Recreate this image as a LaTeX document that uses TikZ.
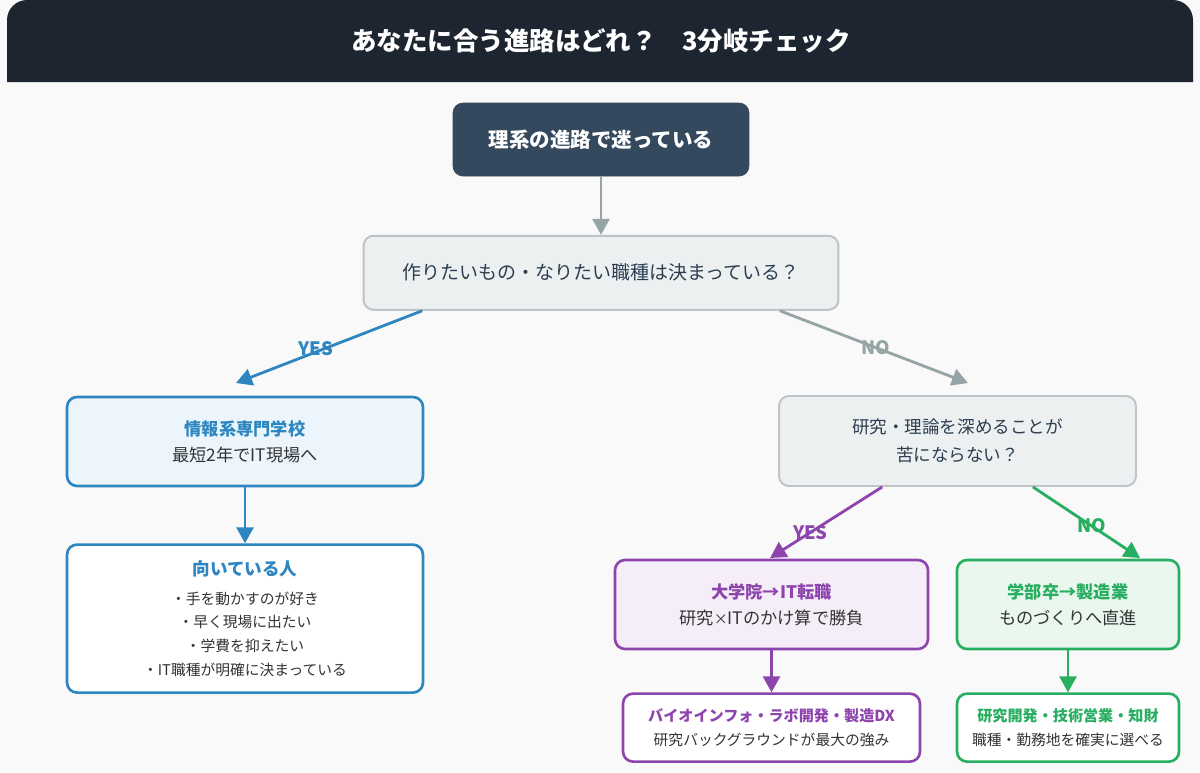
\documentclass[tikz,border=0pt]{standalone}
\usepackage{fontspec}
\setmainfont{Noto Sans CJK JP}
\usepackage{tikz}
\usetikzlibrary{calc}
\usetikzlibrary{positioning}
\usetikzlibrary{arrows.meta}

\definecolor{pagebg}{HTML}{F8F9F8}
\definecolor{bardark}{HTML}{1C2530}
\definecolor{startfill}{HTML}{34495E}
\definecolor{qfill}{HTML}{ECF0F1}
\definecolor{qline}{HTML}{BDC3C7}
\definecolor{arrowgrey}{HTML}{95A5A6}
\definecolor{textdark}{HTML}{2C3E50}
\definecolor{textsub}{HTML}{333333}
\definecolor{blueline}{HTML}{2E86C1}
\definecolor{bluefill}{HTML}{EBF5FB}
\definecolor{purpleline}{HTML}{8E44AD}
\definecolor{purplefill}{HTML}{F5EEF8}
\definecolor{greenline}{HTML}{27AE60}
\definecolor{greenfill}{HTML}{E9F7EF}

\begin{document}
\begin{tikzpicture}[
		x=0.02cm, y=-0.02cm,
		start_node/.style={
			fill=startfill,
			draw=startfill,
			rectangle,
			rounded corners=0.2cm,
			minimum width=5.92cm,
			minimum height=1.46cm,
			text=white,
			font=\fontsize{11.7}{14}\selectfont\bfseries},
		question/.style={
			fill=qfill,
			draw=qline,
			line width=1.1pt,
			rectangle,
			rounded corners=0.2cm,
			align=center,
			text=textdark,
			font=\fontsize{10}{15.9}\selectfont},
		route/.style={
			rectangle,
			rounded corners=0.2cm,
			line width=1.5pt,
			minimum height=1.78cm,
			align=center,
			text=textsub,
			font=\fontsize{9.8}{15}\selectfont},
		route_detail/.style={
			rectangle,
			fill=white,
			rounded corners=0.2cm,
			line width=1.5pt,
			align=center,
			text=textsub,
			font=\fontsize{8.4}{13.6}\selectfont},
		flow/.style={
			-{Triangle[length=0.32cm, width=0.34cm]},
			line width=1.6pt},
		answer/.style={
			font=\fontsize{10.5}{12}\selectfont\bfseries},
		]

		%Page and title bar
		\fill[pagebg] (0,0) rectangle (1200,772);
		\fill[bardark] (7,82) -- (7,20) arc[start angle=180, end angle=90, radius=0.4cm] -- (1173,0) arc[start angle=90, end angle=0, radius=0.4cm] -- (1193,82) -- cycle;
		\node (title) at (601,41) [text=white, font=\fontsize{14.5}{16}\selectfont\bfseries] {あなたに合う進路はどれ？　3分岐チェック};

		%Start
		\node (start)[start_node] at (601,139.5) {理系の進路で迷っている};

		%First question
		\node (q_goal)[question, below = 1.17cm of start, minimum width = 9.5cm, minimum height = 1.48cm, font=\fontsize{10.8}{13}\selectfont] {作りたいもの・なりたい職種は決まっている？};
		\draw[flow, draw=arrowgrey, fill=arrowgrey] (start.south) -- (start.south |- q_goal.north);

		%YES: vocational school
		\node (school)[route, draw=blueline, fill=bluefill, minimum width = 7.12cm] at (245,441.5) {{\color{blueline}\bfseries 情報系専門学校}\\最短2年でIT現場へ};
		\node (school_fit)[route_detail, draw=blueline, below = 1.12cm of school, minimum width = 7.12cm, minimum height = 2.96cm] {{\fontsize{10}{12}\selectfont\color{blueline}\bfseries 向いている人}\\[2.8pt]・手を動かすのが好き\\・早く現場に出たい\\・学費を抑えたい\\・IT職種が明確に決まっている};
		\coordinate (yes_goal) at (236,383);
		\draw[flow, draw=blueline, fill=blueline] ($(q_goal.south west)!0.125!(q_goal.south east)$) -- node[answer, text=blueline, pos=0.57, yshift=0.06cm] {YES} (yes_goal);
		\draw[flow, draw=blueline, fill=blueline] (school) -- (school_fit);

		%NO: second question
		\node (q_research)[question, minimum width = 7.14cm, minimum height = 1.8cm] at (957.5,441) {研究・理論を深めることが\\苦にならない？};
		\coordinate (no_goal) at (968,383);
		\draw[flow, draw=arrowgrey, fill=arrowgrey] ($(q_goal.south west)!0.875!(q_goal.south east)$) -- node[answer, text=arrowgrey, pos=0.51] {NO} (no_goal);

		%YES: graduate school
		\node (grad)[route, draw=purpleline, fill=purplefill, minimum width = 6.26cm] at (771.5,604.5) {{\color{purpleline}\bfseries 大学院→IT転職}\\研究{\fontsize{8}{10}\selectfont ×}ITのかけ算で勝負};
		\node (grad_jobs)[route_detail, draw=purpleline, below = 0.84cm of grad, minimum width = 5.94cm, minimum height = 1.36cm] {{\fontsize{8.6}{10}\selectfont\color{purpleline}\bfseries バイオインフォ・ラボ開発・製造DX}\\研究バックグラウンドが最大の強み};
		\coordinate (yes_research) at (770,558);
		\draw[flow, draw=purpleline, fill=purpleline] ($(q_research.south west)!0.29!(q_research.south east)$) -- node[answer, text=purpleline, pos=0.64] {YES} (yes_research);
		\draw[flow, draw=purpleline, fill=purpleline] (grad) -- (grad_jobs);

		%NO: manufacturing
		\node (maker)[route, draw=greenline, fill=greenfill, minimum width = 4.44cm] at (1068,604.5) {{\color{greenline}\bfseries 学部卒→製造業}\\ものづくりへ直進};
		\node (maker_jobs)[route_detail, draw=greenline, below = 0.84cm of maker, minimum width = 4.44cm, minimum height = 1.36cm] {{\fontsize{8.6}{10}\selectfont\color{greenline}\bfseries 研究開発・技術営業・知財}\\職種・勤務地を確実に選べる};
		\coordinate (no_research) at (1140,558);
		\draw[flow, draw=greenline, fill=greenline] ($(q_research.south west)!0.71!(q_research.south east)$) -- node[answer, text=greenline, pos=0.55] {NO} (no_research);
		\draw[flow, draw=greenline, fill=greenline] (maker) -- (maker_jobs);

	\end{tikzpicture}
\end{document}
